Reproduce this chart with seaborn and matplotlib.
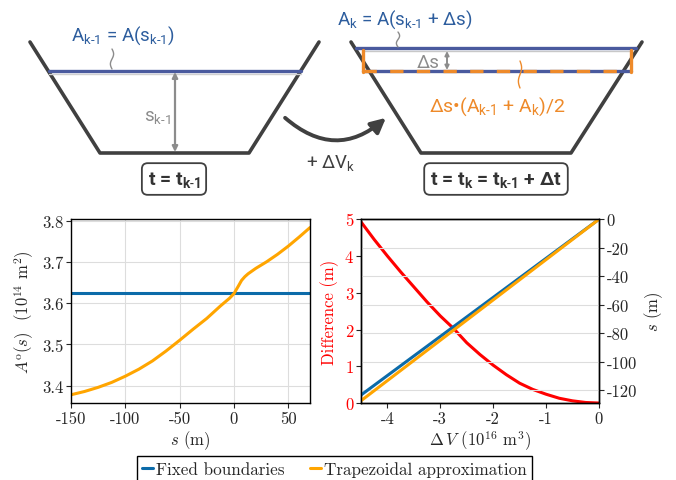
import matplotlib
matplotlib.use("Agg")
import numpy as np
import matplotlib.pyplot as plt
import seaborn as sns
from matplotlib.patches import FancyArrowPatch
from matplotlib.lines import Line2D

# --- Daten ---
S_LEVEL = [-150, -137.5, -125, -112.5, -100, -87.5, -75, -62.5, -50, -37.5,
           -25, -12.5, -4, 0, 4, 7, 10, 13, 20, 30, 40, 50, 60, 70]
AREA_TRAP = [3.378, 3.386, 3.396, 3.408, 3.423, 3.440, 3.460, 3.484, 3.510, 3.537,
             3.563, 3.593, 3.612, 3.623, 3.641, 3.655, 3.664, 3.671, 3.684, 3.700,
             3.718, 3.738, 3.760, 3.783]
AREA_FIXED = [3.625, 3.625]
S_RANGE = [-150, 70]

DV_LINES = [-4.5, 0.0]
S_FIXED = [-123.4, 0.0]
S_TRAP = [-127.4, 0.0]

DV_DIFF = [-4.5, -4.25, -4.0, -3.75, -3.5, -3.25, -3.0, -2.75, -2.5, -2.25,
           -2.0, -1.75, -1.5, -1.25, -1.0, -0.75, -0.5, -0.25, 0.0]
DIFF = [4.93, 4.45, 4.00, 3.57, 3.16, 2.75, 2.37, 2.03, 1.64, 1.32,
        1.03, 0.77, 0.54, 0.37, 0.24, 0.13, 0.06, 0.015, 0.0]

BLUE = "#0C6BA9"
ORANGE = "#FFA500"
RED = "#FF0000"
DARK = "#404040"
GRAY = "#8C8C8C"
TXT_BLUE = "#2E5E9E"
LINE_BLUE = "#4A5A9E"
SK_ORANGE = "#EE8A2A"

sns.set_style("ticks")
plt.rcParams.update({
    "font.family": "cmr10",
    "mathtext.fontset": "cm",
    "axes.unicode_minus": False,
    "axes.formatter.use_mathtext": False,
    "mathtext.rm": "Roboto",
    "mathtext.it": "Roboto:italic",
    "mathtext.bf": "Roboto:bold",
    "mathtext.sf": "Roboto",
    "font.size": 12,
})

fig = plt.figure(figsize=(6.76, 4.81), dpi=100)

# --- Skizze oben ---
sk = fig.add_axes([0, 0, 1, 1])
sk.set_xlim(0, 676)
sk.set_ylim(481, 0)
sk.axis("off")
sk.patch.set_alpha(0)

SUB_K1 = r"$_{\mathrm{k}\text{-}\mathrm{1}}$"
SUB_K = r"$_{\mathrm{k}}$"
SUB_K1_B = r"$_{\mathbf{k}\text{-}\mathbf{1}}$"
SUB_K_B = r"$_{\mathbf{k}}$"
RB = dict(family="Roboto", math_fontfamily="custom")


def squiggle(x, y0, y1, color):
    t = np.linspace(0, 1, 40)
    sk.plot(x + 1.6 * np.sin(2 * np.pi * t), y0 + (y1 - y0) * t, color=color, lw=1.0)


# linkes Becken
sk.plot([30, 100, 249, 319], [43, 154, 154, 43], color=DARK, lw=2.6)
sk.plot([49, 301], [75, 75], color="#D0D0D0", lw=1.0)
sk.plot([49, 301], [72, 72], color=LINE_BLUE, lw=2.4)
sk.annotate("", xy=(175, 73), xytext=(175, 153),
            arrowprops=dict(arrowstyle="<|-|>", color=GRAY, lw=1.6,
                            mutation_scale=8, shrinkA=0, shrinkB=0))
sk.text(171, 117, "s" + SUB_K1, color=GRAY, fontsize=13.5, ha="right", va="center", **RB)
sk.text(71, 36, "A" + SUB_K1 + " = A(s" + SUB_K1 + ")", color=TXT_BLUE,
        fontsize=13.5, ha="left", va="center", **RB)
squiggle(112, 50, 70, GRAY)
sk.text(174, 180, "t = t" + SUB_K1_B, color="#333333", fontsize=14,
        fontweight="bold", ha="center", va="center", **RB,
        bbox=dict(boxstyle="round,pad=0.3", fc="white", ec=DARK, lw=1.3))

# Pfeil in der Mitte
sk.add_patch(FancyArrowPatch((283, 117), (388, 117), connectionstyle="arc3,rad=0.45",
                             arrowstyle="-|>", mutation_scale=22, lw=2.8, color=DARK))
sk.text(331, 163, r"+ $\Delta$V" + SUB_K, color=DARK, fontsize=13.5,
        ha="center", va="center", **RB)

# rechtes Becken
sk.plot([351, 421, 571, 642], [43, 154, 154, 43], color=DARK, lw=2.6)
sk.plot([363, 631], [52, 52], color="#C8C8C8", lw=1.0)
sk.plot([356, 636], [49, 49], color=LINE_BLUE, lw=2.4)
sk.plot([363, 631], [72, 72], color=LINE_BLUE, lw=2.4)
sk.plot([363, 631], [72, 72], color=SK_ORANGE, lw=2.4, linestyle=(0, (4.0, 4.0)))
sk.plot([363, 363], [51, 73], color=SK_ORANGE, lw=2.4)
sk.plot([631, 631], [51, 73], color=SK_ORANGE, lw=2.4)
sk.annotate("", xy=(447, 52), xytext=(447, 71),
            arrowprops=dict(arrowstyle="<|-|>", color=GRAY, lw=1.4,
                            mutation_scale=6, shrinkA=0, shrinkB=0))
sk.text(428, 63, "Δs", color=GRAY, fontsize=13.5, ha="center", va="center", **RB)
sk.text(337, 20, "A" + SUB_K + " = A(s" + SUB_K1 + " + Δs)", color=TXT_BLUE,
        fontsize=13.5, ha="left", va="center", **RB)
squiggle(398, 33, 48, GRAY)
sk.text(497, 107, "Δs•(A" + SUB_K1 + " + A" + SUB_K + ")/2", color=SK_ORANGE,
        fontsize=14, ha="center", va="center", **RB)
squiggle(520, 62, 89, SK_ORANGE)
sk.text(496, 180, "t = t" + SUB_K_B + " = t" + SUB_K1_B + " + Δt", color="#333333",
        fontsize=14, fontweight="bold", ha="center", va="center", **RB,
        bbox=dict(boxstyle="round,pad=0.3", fc="white", ec=DARK, lw=1.3))

# --- Plot links: Fläche über Höhe ---
ax = fig.add_axes([0.105, 0.160, 0.3536, 0.382])
sns.lineplot(x=S_RANGE, y=AREA_FIXED, ax=ax, color=BLUE, lw=2.2)
sns.lineplot(x=S_LEVEL, y=AREA_TRAP, ax=ax, color=ORANGE, lw=2.2)
ax.set_xlim(-150, 70)
ax.set_ylim(3.358, 3.803)
ax.set_xticks([-150, -100, -50, 0, 50])
ax.set_yticks([3.4, 3.5, 3.6, 3.7, 3.8])
ax.set_xlabel(r"$s$ (m)", fontsize=12, labelpad=2)
ax.set_ylabel(r"$A^{\rm o}(s)$  (10$^{14}$ m$^2$)", fontsize=12, labelpad=4)
ax.grid(True, color="#DDDDDD", lw=0.8)
ax.set_axisbelow(True)

# --- Plot rechts: Differenz und Höhe über Volumen ---
ax1 = fig.add_axes([0.534, 0.160, 0.352, 0.382])
sns.lineplot(x=DV_DIFF, y=DIFF, ax=ax1, color=RED, lw=2.2)
ax1.set_xlim(-4.5, 0)
ax1.set_ylim(0, 5)
ax1.set_xticks([-4, -3, -2, -1, 0])
ax1.set_yticks([0, 1, 2, 3, 4, 5])
ax1.set_xlabel(r"$\Delta\,V$ (10$^{16}$ m$^3$)", fontsize=12, labelpad=2)
ax1.set_ylabel("Difference (m)", color=RED, fontsize=12, labelpad=4)
ax1.tick_params(axis="y", labelcolor=RED)

ax2 = ax1.twinx()
sns.lineplot(x=DV_LINES, y=S_FIXED, ax=ax2, color=BLUE, lw=2.2)
sns.lineplot(x=DV_LINES, y=S_TRAP, ax=ax2, color=ORANGE, lw=2.2)
ax2.set_ylim(-129, 0)
ax2.set_yticks([0, -20, -40, -60, -80, -100, -120])
ax2.set_ylabel(r"$s$ (m)", fontsize=12)
ax2.grid(True, color="#DDDDDD", lw=0.8)

for a in (ax, ax1, ax2):
    a.tick_params(direction="out", length=3.5, width=0.8, labelsize=12, pad=2)
    for sp in a.spines.values():
        sp.set_visible(True)
        sp.set_color("black")
        sp.set_linewidth(1.0)

handles = [Line2D([], [], color=BLUE, lw=2.2), Line2D([], [], color=ORANGE, lw=2.2)]
fig.legend(handles, ["Fixed boundaries", "Trapezoidal approximation"],
           loc="upper center", bbox_to_anchor=(0.495, 0.05), ncol=2,
           fontsize=12.3, handlelength=0.6, handletextpad=0.2, columnspacing=1.5,
           borderpad=0.3, borderaxespad=0, fancybox=False, edgecolor="black",
           framealpha=1)

fig.savefig("out.png", dpi=100)
